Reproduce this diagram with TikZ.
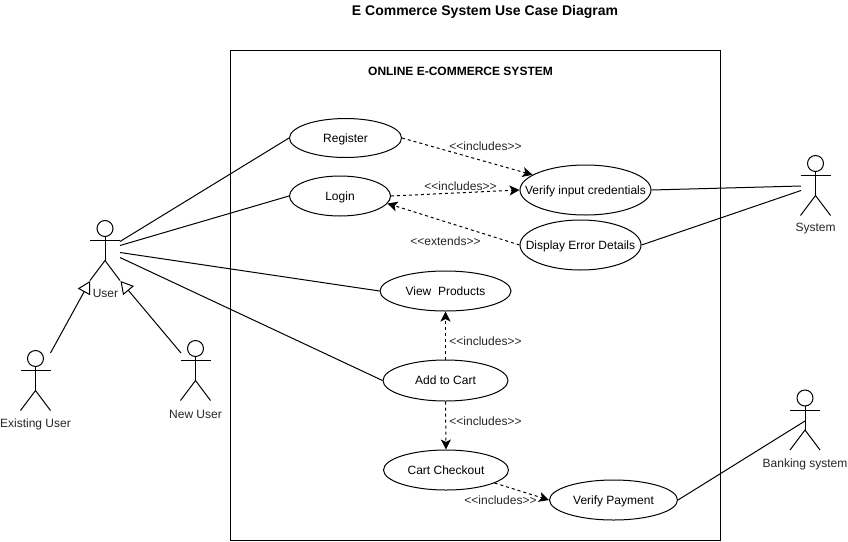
\documentclass[tikz,border=0pt]{standalone}
\usepackage{fontspec}
\setmainfont{Liberation Sans}
\usetikzlibrary{shapes.geometric,arrows.meta}
\tikzset{
  usecase/.style={draw,ellipse,inner sep=0pt,font=\fontsize{12}{14}\selectfont,line width=1pt},
  lbl/.style={font=\fontsize{12}{14}\selectfont,inner sep=0pt,text=black!85},
  deplbl/.style={font=\fontsize{12}{14}\selectfont,inner sep=0pt,text=black!85},
  solidline/.style={line width=1pt},
  depline/.style={line width=1pt,dash pattern=on 3pt off 3pt,-{Stealth[length=10pt,width=10pt,inset=2.5pt]}},
  genline/.style={line width=1pt,-{Triangle[open,length=12.5pt,width=14pt,fill=white]}},
  actorline/.style={line width=1pt}
}
\newcommand{\uc}[1]{\smash{\makebox[0pt]{\raisebox{-4pt}{#1}}}}
\newcommand{\actorfig}[5]{%
  \draw[actorline] (#2,#3) circle (8);
  \draw[actorline] (#2,#3+8) -- (#2,#3+32);
  \draw[actorline] (#2-15,#3+12) -- (#2+15,#3+12);
  \draw[actorline] (#2-15,#3+52) -- (#2,#3+32) -- (#2+15,#3+52);
  \node[lbl] (#1) at (#2,#5) {#4};
}
\begin{document}
\begin{tikzpicture}[x=1pt,y=-1pt]
\useasboundingbox (0,0) rectangle (848,541);
\fill[white] (0,0) rectangle (848,541);
\node[font=\bfseries\fontsize{14}{16}\selectfont,inner sep=0pt] (title) at (485,11.5) {E Commerce System Use Case Diagram};
\node[draw,line width=1pt,minimum width=490pt,minimum height=490pt,inner sep=0pt] (sys) at (475,295.5) {};
\node[font=\bfseries\fontsize{12}{14}\selectfont,inner sep=0pt] (systitle) at (460.5,71) {ONLINE E-COMMERCE SYSTEM};

\node[usecase,minimum width=112pt,minimum height=39pt] (register) at (345.5,138) {\uc{Register}};
\node[usecase,minimum width=101pt,minimum height=40pt] (login) at (340,196) {\uc{Login}};
\node[usecase,minimum width=131pt,minimum height=50pt] (verify) at (585.5,190) {\uc{Verify input credentials}};
\node[usecase,minimum width=121pt,minimum height=50pt] (display) at (580.5,245) {\uc{Display Error Details}};
\node[usecase,minimum width=131pt,minimum height=40pt] (view) at (445.5,291) {\uc{View\ \ Products}};
\node[usecase,minimum width=125pt,minimum height=41pt] (cart) at (445.5,380.5) {\uc{Add to Cart}};
\node[usecase,minimum width=125pt,minimum height=40pt] (checkout) at (446,470) {\uc{Cart Checkout}};
\node[usecase,minimum width=128pt,minimum height=40pt] (payment) at (613.5,500) {\uc{Verify Payment}};

\actorfig{user}{105}{228.5}{\hspace*{1pt}User}{293.5}
\actorfig{existing}{35.5}{358.5}{Existing User}{424}
\actorfig{newuser}{195.5}{348.5}{New User}{414}
\actorfig{system}{815.5}{163.5}{System}{229}
\actorfig{banking}{805}{398}{Banking system}{464}

\coordinate (u1) at (120,241.5);
\coordinate (u2) at (120,245.5);
\coordinate (u3) at (120,252.5);
\coordinate (u4) at (120,257.5);
\coordinate (ufl) at (90,281);
\coordinate (ufr) at (120.5,281);
\coordinate (ex) at (50.5,353);
\coordinate (nw) at (181,353);
\coordinate (s1) at (801,186);
\coordinate (s2) at (801,190.5);
\coordinate (b1) at (805,421);

\draw[solidline] (u1) -- (register.west);
\draw[solidline] (u2) -- (login.west);
\draw[solidline] (u3) -- (view.west);
\draw[solidline] (u4) -- (cart.west);
\draw[genline] (ex) -- (ufl);
\draw[genline] (nw) -- (ufr);
\draw[solidline] (verify.east) -- (s1);
\draw[solidline] (display.east) -- (s2);
\draw[solidline] (payment.east) -- (b1);

\draw[depline] (register.east) -- (verify.164);
\draw[depline] (login.east) -- (verify.west);
\draw[depline] (display.west) -- (login.-9);
\draw[depline] (cart.north) -- (view.south);
\draw[depline] (cart.south) -- (checkout.north);
\draw[depline] (checkout.-15) -- (payment.west);

\node[deplbl] (l1) at (485.5,146) {<{}<includes>{}>};
\node[deplbl] (l2) at (460.5,186) {<{}<includes>{}>};
\node[deplbl] (l3) at (445.5,241) {<{}<extends>{}>};
\node[deplbl] (l4) at (485.5,341) {<{}<includes>{}>};
\node[deplbl] (l5) at (485.5,421) {<{}<includes>{}>};
\node[deplbl] (l6) at (500.5,500.5) {<{}<includes>{}>};
\end{tikzpicture}
\end{document}
